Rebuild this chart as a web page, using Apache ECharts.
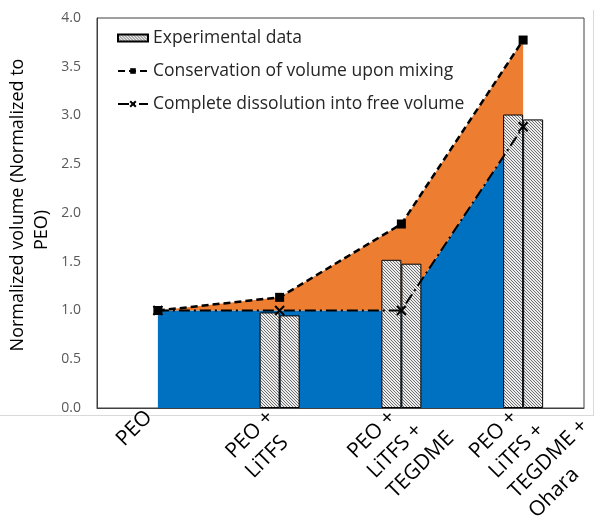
<!DOCTYPE html>
<html>
<head>
<meta charset="utf-8">
<script src="https://cdn.jsdelivr.net/npm/echarts@6/dist/echarts.min.js"></script>
<style>
  html, body { margin: 0; padding: 0; background: #fff; }
  #chart { width: 603px; height: 520px; }
</style>
</head>
<body>
<div id="chart"></div>
<script>
// Sample compositions along the x axis
const categories = ['PEO', 'PEO +\nLiTFS', 'PEO +\nLiTFS +\nTEGDME', 'PEO +\nLiTFS +\nTEGDME +\nOhara'];
// Measured volumes, two specimens per composition (none for pure PEO)
const experimentalA = [null, 0.98, 1.52, 3.01];
const experimentalB = [null, 0.95, 1.48, 2.96];
// Model predictions
const conservation = [1.0, 1.135, 1.887, 3.774];
const dissolution = [1.0, 1.0, 1.0, 2.885];
// Value axis range
const yMin = 0, yMax = 4, yStep = 0.5;

const FONT = 'Open Sans';
const BLUE = '#0070c0';
const ORANGE = '#ed7d31';

// Small tile with a "\" diagonal hatch for the measured bars
function hatchTile() {
  const c = document.createElement('canvas');
  c.width = 3; c.height = 3;
  const g = c.getContext('2d');
  g.fillStyle = '#ececec';
  g.fillRect(0, 0, 3, 3);
  g.fillStyle = '#707070';
  for (let i = 0; i < 3; i++) g.fillRect(i, i, 1, 1);
  return c;
}
const hatch = { image: hatchTile(), repeat: 'repeat' };

// Gap between the two model curves, stacked on top of the dissolution curve
const gapFill = conservation.map((v, i) => v - dissolution[i]);

const chart = echarts.init(document.getElementById('chart'), null, { renderer: 'canvas' });
chart.setOption({
  animation: false,
  backgroundColor: '#fff',
  grid: {
    left: 97, right: 19, top: 18, bottom: 112,
    outerBoundsMode: 'none',
    show: true, borderColor: '#404040', borderWidth: 1, backgroundColor: 'transparent'
  },
  legend: {
    orient: 'vertical',
    left: 112, top: 24,
    itemWidth: 30, itemHeight: 7, itemGap: 15,
    textStyle: { fontFamily: FONT, fontSize: 17.5, color: '#262626' },
    data: [
      { name: 'Experimental data', icon: 'rect' },
      'Conservation of volume upon mixing',
      'Complete dissolution into free volume'
    ]
  },
  xAxis: {
    type: 'category',
    data: categories,
    z: 5,
    axisLine: { lineStyle: { color: '#404040', width: 1 } },
    axisTick: { show: false },
    // category names are laid out below as slanted, stacked lines
    axisLabel: { show: false }
  },
  yAxis: {
    type: 'value',
    min: yMin, max: yMax, interval: yStep,
    name: '{a|Normalized volume (Normalized to}\n{b|PEO)}',
    nameLocation: 'middle',
    nameRotate: 90,
    nameGap: 23,
    nameTextStyle: {
      fontFamily: FONT, fontSize: 18, color: '#000',
      padding: [0, 0, 0, 16],
      rich: {
        a: { fontFamily: FONT, fontSize: 18, color: '#000', lineHeight: 24 },
        b: { fontFamily: FONT, fontSize: 18, color: '#000', lineHeight: 24, align: 'center', padding: [0, 50, 0, 0] }
      }
    },
    axisLine: { show: true, lineStyle: { color: '#404040' } },
    axisTick: { show: false },
    splitLine: { show: false },
    axisLabel: {
      margin: 16,
      color: '#595959',
      fontFamily: FONT,
      fontSize: 14,
      formatter: v => v.toFixed(1)
    }
  },
  series: [
    {
      name: 'dissolution-area', type: 'line', stack: 'model', data: dissolution,
      symbol: 'none', silent: true, z: 1,
      lineStyle: { opacity: 0 },
      areaStyle: { color: BLUE, opacity: 1 }
    },
    {
      name: 'conservation-area', type: 'line', stack: 'model', data: gapFill,
      symbol: 'none', silent: true, z: 1,
      lineStyle: { opacity: 0 },
      areaStyle: { color: ORANGE, opacity: 1 }
    },
    {
      name: 'Experimental data', type: 'bar', data: experimentalA,
      barWidth: 20, barGap: '0%', z: 2,
      itemStyle: { color: hatch, borderColor: '#000', borderWidth: 1 }
    },
    {
      name: 'Experimental data', type: 'bar', data: experimentalB,
      barWidth: 20, barGap: '0%', z: 2,
      itemStyle: { color: hatch, borderColor: '#000', borderWidth: 1 }
    },
    {
      name: 'Conservation of volume upon mixing', type: 'line', data: conservation, z: 3,
      symbol: 'rect', symbolSize: 9,
      lineStyle: { color: '#000', width: 2.5, type: [7, 4] },
      itemStyle: { color: '#000' }
    },
    {
      name: 'Complete dissolution into free volume', type: 'line', data: dissolution, z: 3,
      symbol: 'path://M0,0L10,10M10,0L0,10', symbolSize: 9,
      lineStyle: { color: '#000', width: 2, type: [11, 4, 2, 4] },
      itemStyle: { color: '#000', borderColor: '#000', borderWidth: 2 }
    }
  ]
});

// Slanted (45°) category names: left-aligned stacked lines whose first line
// ends just below its category position on the axis.
const LABEL_SIZE = 21;
const LABEL_PITCH = 28;
const ctx = document.createElement('canvas').getContext('2d');
ctx.font = LABEL_SIZE + 'px "' + FONT + '"';
const k = Math.SQRT1_2;
const axisY = chart.convertToPixel({ yAxisIndex: 0 }, yMin);
const labelEls = [];
categories.forEach((cat, i) => {
  const tx = chart.convertToPixel({ xAxisIndex: 0 }, i);
  const lines = cat.split('\n');
  const w1 = ctx.measureText(lines[0]).width;
  const endX = tx - 9, endY = axisY + 6;
  const sx = endX - w1 * k, sy = endY + w1 * k;
  lines.forEach((line, j) => {
    labelEls.push({
      type: 'text', z: 10, silent: true,
      x: sx + j * LABEL_PITCH * k,
      y: sy + j * LABEL_PITCH * k,
      rotation: Math.PI / 4,
      style: {
        text: line, fill: '#000',
        fontFamily: FONT, fontSize: LABEL_SIZE,
        align: 'left', verticalAlign: 'middle'
      }
    });
  });
});

chart.setOption({
  graphic: [
    // faint outer frame of the chart area
    { type: 'line', z: 0, shape: { x1: 593.5, y1: 10, x2: 593.5, y2: 416 }, style: { stroke: '#d9d9d9', lineWidth: 1 } },
    { type: 'line', z: 0, shape: { x1: 0, y1: 415.5, x2: 593.5, y2: 415.5 }, style: { stroke: '#d9d9d9', lineWidth: 1 } }
  ].concat(labelEls)
});
</script>
</body>
</html>
